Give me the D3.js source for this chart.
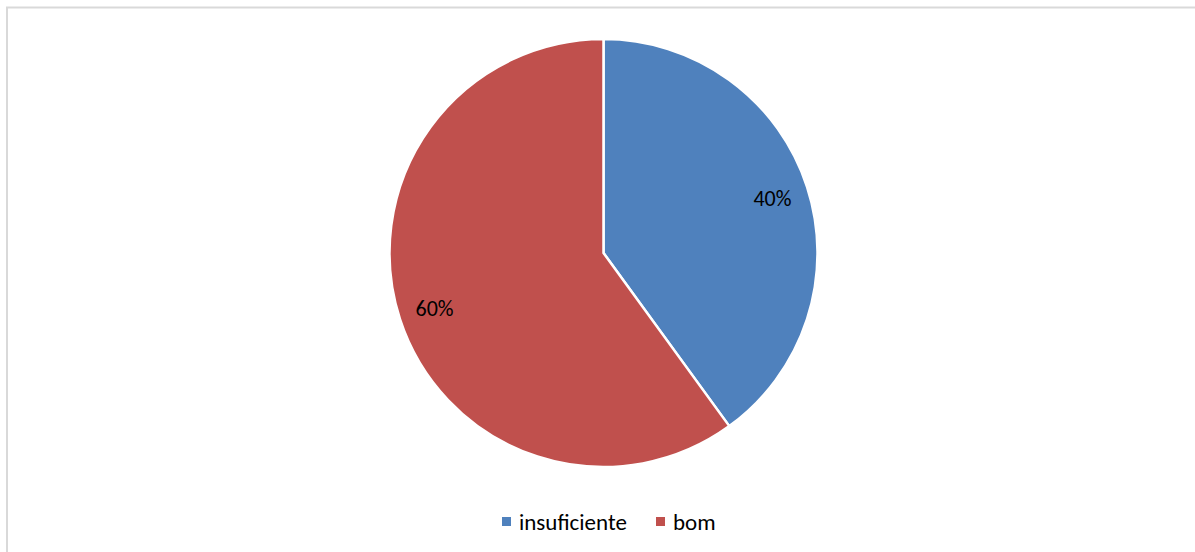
<!DOCTYPE html>
<html>
<head>
<meta charset="utf-8">
<script src="https://cdn.jsdelivr.net/npm/d3@7"></script>
<style>
  body { margin: 0; background: #fff; }
  svg { display: block; font-family: Carlito, Calibri, Lato, sans-serif; }
</style>
</head>
<body>
<svg width="1195" height="552"></svg>
<script>
// data
const categories = ['insuficiente', 'bom'];
const values = [40, 60];
const colors = ['#4F81BD', '#C0504D'];

const svg = d3.select('svg');

// chart frame (top and left edges visible)
svg.append('path')
  .attr('d', 'M7,560 V7.5 H1200')
  .attr('fill', 'none')
  .attr('stroke', '#d9d9d9')
  .attr('stroke-width', 2);

const cx = 603.5, cy = 253, r = 214;
const g = svg.append('g').attr('transform', `translate(${cx},${cy})`);

const pie = d3.pie().sort(null).value(d => d.v);
const data = categories.map((c, i) => ({ c, v: values[i], col: colors[i] }));
const arcs = pie(data);

const arc = d3.arc().innerRadius(0).outerRadius(r);
const labelArc = d3.arc().innerRadius(r * 0.83).outerRadius(r * 0.83);

g.selectAll('path.slice')
  .data(arcs)
  .enter()
  .append('path')
    .attr('class', 'slice')
    .attr('d', arc)
    .attr('fill', d => d.data.col)
    .attr('stroke', '#fff')
    .attr('stroke-width', 2.5)
    .attr('stroke-linejoin', 'round');

const total = d3.sum(values);
g.selectAll('text.lbl')
  .data(arcs)
  .enter()
  .append('text')
    .attr('class', 'lbl')
    .attr('transform', d => `translate(${labelArc.centroid(d)})`)
    .attr('text-anchor', 'middle')
    .attr('dy', '0.35em')
    .attr('font-size', 22)
    .attr('fill', '#000')
    .text(d => Math.round(d.data.v / total * 100) + '%');

// legend
const legend = svg.append('g').attr('transform', 'translate(502,521.5)');
const offs = [0, 154];
const lg = legend.selectAll('g')
  .data(data)
  .enter()
  .append('g')
    .attr('transform', (d, i) => `translate(${offs[i]},0)`);
lg.append('rect')
  .attr('x', 0).attr('y', -4.5)
  .attr('width', 9).attr('height', 9)
  .attr('fill', d => d.col);
lg.append('text')
  .attr('x', 17)
  .attr('dy', '0.35em')
  .attr('font-size', 23)
  .attr('fill', '#000')
  .text(d => d.c);
</script>
</body>
</html>
